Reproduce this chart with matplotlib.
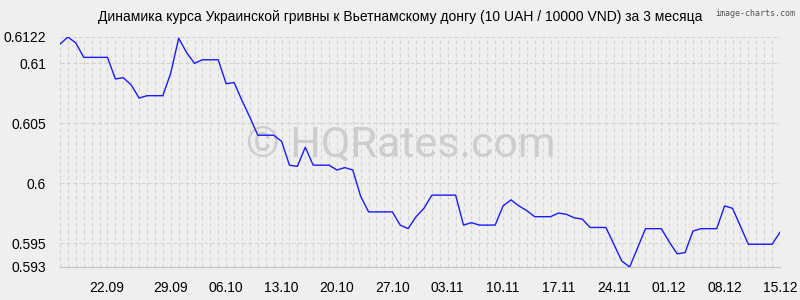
import matplotlib
matplotlib.use("Agg")
import matplotlib.pyplot as plt

# Daily values 15.09 .. 15.12 (92 points)
values = [
    0.6116, 0.6122, 0.6117, 0.6105, 0.6105, 0.6105, 0.6105, 0.6087, 0.6088, 0.6082,
    0.6071, 0.6073, 0.6073, 0.6073, 0.6092, 0.6121, 0.6109, 0.6100, 0.6103, 0.6103,
    0.6103, 0.6083, 0.6084, 0.6069, 0.6055, 0.6040, 0.6040, 0.6040, 0.6035, 0.6015,
    0.6014, 0.6030, 0.6015, 0.6015, 0.6015, 0.6011, 0.6013, 0.6011, 0.5989, 0.5976,
    0.5976, 0.5976, 0.5976, 0.5965, 0.5962, 0.5972, 0.5979, 0.5990, 0.5990, 0.5990,
    0.5990, 0.5965, 0.5967, 0.5965, 0.5965, 0.5965, 0.5981, 0.5986, 0.5981, 0.5977,
    0.5972, 0.5972, 0.5972, 0.5975, 0.5974, 0.5971, 0.5970, 0.5963, 0.5963, 0.5963,
    0.5949, 0.5935, 0.5930, 0.5946, 0.5962, 0.5962, 0.5962, 0.5951, 0.5941, 0.5942,
    0.5960, 0.5962, 0.5962, 0.5962, 0.5981, 0.5979, 0.5964, 0.5949, 0.5949, 0.5949,
    0.5949, 0.5959,
]
x_labels = ["22.09", "29.09", "06.10", "13.10", "20.10", "27.10", "03.11",
            "10.11", "17.11", "24.11", "01.12", "08.12", "15.12"]
x_label_pos = [5.9, 14, 21, 28, 35, 42, 49, 56, 63, 70, 77, 84, 91]
y_ticks = [0.593, 0.595, 0.6, 0.605, 0.61, 0.6122]
y_labels = ["0.593", "0.595", "0.6", "0.605", "0.61", "0.6122"]
title = "Динамика курса Украинской гривны к Вьетнамскому донгу (10 UAH / 10000 VND) за 3 месяца"

plt.rcParams['font.family'] = ['Liberation Sans', 'DejaVu Sans']
bg = "#efefef"
fig = plt.figure(figsize=(8, 3), dpi=100, facecolor=bg)
ax = fig.add_axes([60 / 800, 1 - 267 / 300, 720 / 800, 230 / 300])
ax.set_facecolor(bg)

n = len(values)
xs = list(range(n))
ax.set_xlim(0, n - 1)
ax.set_ylim(y_ticks[0], y_ticks[-1])

# grid: vertical every day, horizontal at y ticks
grid_color = "#d3d3d3"
for i in xs:
    ax.axvline(i, color=grid_color, lw=0.75, ls=(0, (3.5, 3)), zorder=0)
for yv in y_ticks[1:]:
    ax.axhline(yv, color=grid_color, lw=0.75, ls=(0, (4, 2)), zorder=0)

for s in ["top", "right", "left"]:
    ax.spines[s].set_visible(False)
ax.spines["bottom"].set_color("#c4c4c4")
ax.spines["bottom"].set_linewidth(0.9)

# watermark
ax.text(0.473, 0.53, "© HQRates.com", transform=ax.transAxes, fontsize=31,
        color="#cdcdcd", ha="center", va="center", zorder=1,
        family=["Roboto", "DejaVu Sans"])

ax.plot(xs, values, color="#1a1aff", lw=1.0, zorder=3)

ax.set_yticks(y_ticks)
ax.set_yticklabels(y_labels)
ax.set_xticks(x_label_pos)
ax.set_xticklabels(x_labels)
ax.tick_params(axis="both", length=0, labelsize=10, colors="#000000")
ax.tick_params(axis="y", pad=10)
ax.tick_params(axis="x", pad=10)

fig.text(0.5, 1 - 17 / 300, title, ha="center", va="center", fontsize=10)
fig.text(795 / 800, 1 - 14 / 300, "image-charts.com", ha="right", va="center",
         fontsize=6, color="#555555", family=["DejaVu Sans Mono"])

fig.savefig("out.png", dpi=100, facecolor=bg)
